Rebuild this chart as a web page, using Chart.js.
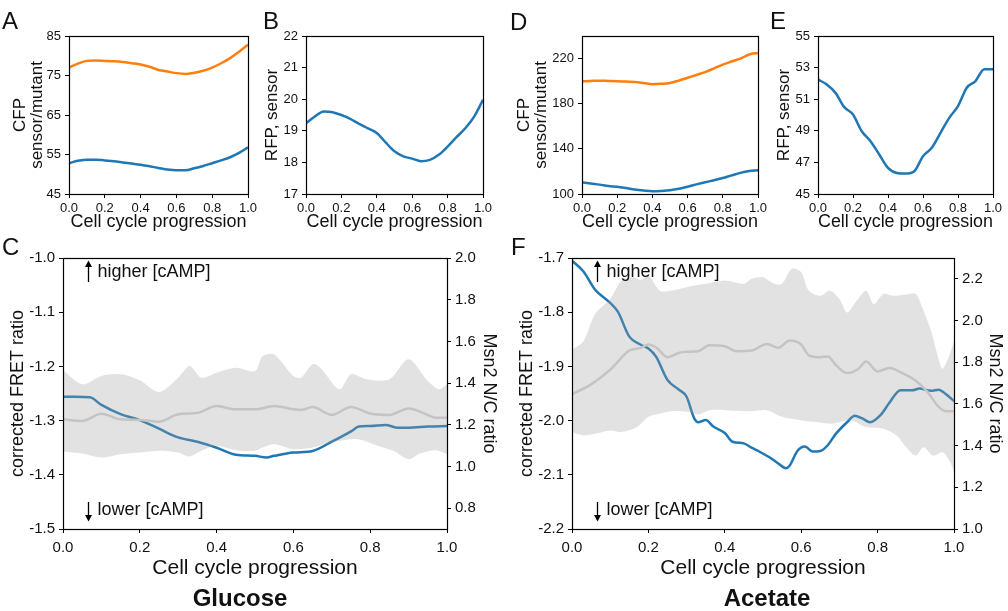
<!DOCTYPE html>
<html><head><meta charset="utf-8">
<script src="https://cdn.jsdelivr.net/npm/chart.js@4.4.1/dist/chart.umd.min.js"></script>
<style>
body{margin:0;background:#fff;}
#wrap{position:relative;width:1008px;height:611px;overflow:hidden;background:#fff;font-family:Arial,"Liberation Sans",sans-serif;color:#111}
canvas{position:absolute}
.lab{position:absolute;font-size:24px;line-height:24px;white-space:nowrap}
.cond{position:absolute;font-size:24px;font-weight:bold;line-height:24px;transform:translateX(-50%);white-space:nowrap}
</style></head><body>
<div id="wrap">
<canvas id="cA" width="258" height="210" style="left:0;top:26px"></canvas>
<canvas id="cB" width="235" height="210" style="left:258px;top:26px"></canvas>
<canvas id="cD" width="268" height="210" style="left:500px;top:26px"></canvas>
<canvas id="cE" width="237" height="210" style="left:768px;top:26px"></canvas>
<canvas id="cC" width="500" height="337" style="left:0;top:248px"></canvas>
<canvas id="cF" width="508" height="337" style="left:500px;top:248px"></canvas>
<div class="lab" style="left:2px;top:9px">A</div>
<div class="lab" style="left:263px;top:9px">B</div>
<div class="lab" style="left:510px;top:10px">D</div>
<div class="lab" style="left:770px;top:9px">E</div>
<div class="lab" style="left:2px;top:235px">C</div>
<div class="lab" style="left:511px;top:235px">F</div>
<div class="cond" style="left:240px;top:586px">Glucose</div>
<div class="cond" style="left:767px;top:586px">Acetate</div>
</div>
<script>
// ---------- data ----------
const progTicks = [0, 0.2, 0.4, 0.6, 0.8, 1.0];
const xGrid = [0,0.05,0.1,0.15,0.2,0.25,0.3,0.35,0.4,0.45,0.5,0.55,0.6,0.65,0.7,0.75,0.8,0.85,0.9,0.95,1.0];

// A: glucose CFP
const aTicks = [45, 55, 65, 75, 85];
const aMutant = [77.0,78.0,78.7,78.8,78.7,78.6,78.4,78.1,77.8,77.2,76.4,76.0,75.6,75.4,75.7,76.2,77.0,78.1,79.4,81.0,82.8];
const aSensor = [52.8,53.4,53.7,53.7,53.5,53.3,53.0,52.7,52.4,52.0,51.6,51.2,51.0,51.0,51.5,52.1,52.8,53.5,54.3,55.4,56.8];

// B: glucose RFP
const bTicks = [17, 18, 19, 20, 21, 22];
const bSensor = [19.24,19.45,19.61,19.59,19.5,19.38,19.22,19.08,18.93,18.63,18.35,18.19,18.12,18.04,18.08,18.24,18.5,18.8,19.08,19.45,19.98];

// D: acetate CFP
const dTicks = [100, 140, 180, 220];
const dMutant = [199.9,200.2,200.4,200.2,200.0,199.6,199.3,198.3,197.2,197.6,198.4,200.5,203.0,205.5,208.0,211.3,214.7,217.4,220.0,223.6,225.0];
const dSensor = [110.4,109.3,108.3,107.0,106.5,105.3,103.9,103.0,102.4,102.7,103.3,104.6,106.5,108.5,110.4,112.2,114.2,116.5,118.7,120.3,121.0];

// E: acetate RFP
const eTicks = [45, 47, 49, 51, 53, 55];
const eSensor = [52.25,51.93,51.4,50.5,50.03,48.97,48.34,47.5,46.65,46.33,46.29,46.44,47.39,47.92,48.87,49.82,50.56,51.72,52.15,52.89,52.89];

// C: glucose FRET / Msn2
const cFretTicks = [-1.5, -1.4, -1.3, -1.2, -1.1, -1.0];
const cMsnTicks = [0.8, 1.0, 1.2, 1.4, 1.6, 1.8, 2.0];
const cFretX = [0,0.03,0.07,0.1,0.15,0.2,0.25,0.3,0.35,0.4,0.45,0.5,0.53,0.55,0.6,0.65,0.7,0.75,0.77,0.8,0.84,0.87,0.9,0.95,1.0];
const cFret  = [-1.256,-1.256,-1.257,-1.271,-1.288,-1.299,-1.315,-1.331,-1.339,-1.35,-1.363,-1.365,-1.368,-1.365,-1.359,-1.356,-1.339,-1.32,-1.311,-1.31,-1.308,-1.313,-1.313,-1.311,-1.31];
const cMsnX = [0,0.05,0.1,0.15,0.2,0.25,0.3,0.35,0.4,0.45,0.5,0.55,0.6,0.62,0.65,0.7,0.75,0.8,0.85,0.9,0.95,0.97,1.0];
const cMsn  = [1.226,1.218,1.253,1.226,1.223,1.215,1.25,1.257,1.29,1.274,1.274,1.29,1.274,1.271,1.285,1.247,1.285,1.254,1.247,1.278,1.247,1.234,1.234];
const cMsnHiX = [0,0.05,0.1,0.15,0.2,0.25,0.3,0.33,0.36,0.4,0.45,0.5,0.52,0.55,0.6,0.62,0.65,0.67,0.72,0.75,0.79,0.85,0.9,0.95,0.98,1.0];
const cMsnHi  = [1.461,1.394,1.434,1.442,1.413,1.357,1.426,1.482,1.426,1.45,1.474,1.458,1.53,1.537,1.434,1.426,1.49,1.474,1.37,1.442,1.418,1.418,1.514,1.41,1.37,1.394];
const cMsnLoX = [0,0.05,0.1,0.15,0.2,0.25,0.3,0.33,0.36,0.4,0.45,0.5,0.52,0.55,0.6,0.65,0.7,0.75,0.78,0.82,0.86,0.9,0.93,0.97,1.0];
const cMsnLo  = [1.072,1.062,1.043,1.059,1.067,1.075,1.067,1.048,1.075,1.099,1.078,1.075,1.091,1.107,1.083,1.091,1.115,1.131,1.126,1.099,1.075,1.035,1.062,1.078,1.059];

// F: acetate FRET / Msn2
const fFretTicks = [-2.2, -2.1, -2.0, -1.9, -1.8, -1.7];
const fMsnTicks = [1.0, 1.2, 1.4, 1.6, 1.8, 2.0, 2.2];
const fFretX = [0,0.03,0.06,0.1,0.12,0.15,0.18,0.2,0.22,0.25,0.28,0.3,0.32,0.33,0.35,0.37,0.4,0.42,0.45,0.47,0.49,0.52,0.54,0.56,0.57,0.59,0.61,0.63,0.65,0.67,0.69,0.72,0.74,0.76,0.78,0.81,0.83,0.86,0.89,0.91,0.94,0.96,0.98,1.0];
const fFret  = [-1.705,-1.725,-1.758,-1.783,-1.799,-1.845,-1.86,-1.867,-1.882,-1.925,-1.943,-1.956,-1.996,-2.003,-1.999,-2.011,-2.023,-2.039,-2.042,-2.05,-2.057,-2.069,-2.079,-2.088,-2.083,-2.056,-2.048,-2.057,-2.056,-2.045,-2.025,-2.003,-1.991,-1.996,-2.003,-1.988,-1.968,-1.944,-1.944,-1.941,-1.945,-1.943,-1.952,-1.964];
const fMsnX = [0,0.05,0.1,0.15,0.18,0.2,0.22,0.25,0.28,0.3,0.33,0.36,0.4,0.43,0.47,0.51,0.54,0.57,0.6,0.62,0.65,0.67,0.69,0.72,0.75,0.77,0.8,0.83,0.87,0.9,0.93,0.96,0.98,1.0];
const fMsn  = [1.646,1.694,1.764,1.856,1.869,1.885,1.872,1.824,1.845,1.85,1.853,1.882,1.877,1.853,1.856,1.888,1.869,1.904,1.885,1.833,1.824,1.828,1.788,1.748,1.769,1.804,1.756,1.772,1.743,1.711,1.659,1.586,1.565,1.565];
const fMsnHiX = [0,0.03,0.06,0.1,0.13,0.16,0.18,0.2,0.23,0.26,0.3,0.35,0.4,0.45,0.47,0.5,0.53,0.55,0.575,0.6,0.62,0.65,0.675,0.7,0.72,0.745,0.77,0.79,0.815,0.84,0.87,0.9,0.915,0.94,0.96,0.97,0.985,1.0];
const fMsnHi  = [1.861,1.901,2.03,2.103,2.192,2.208,2.195,2.216,2.143,2.143,2.16,2.176,2.192,2.176,2.2,2.208,2.176,2.176,2.248,2.232,2.143,2.119,2.143,2.103,2.038,2.095,2.143,2.079,2.127,2.119,2.124,2.127,2.071,1.95,1.812,1.769,1.82,1.901];
const fMsnLoX = [0,0.03,0.06,0.1,0.13,0.17,0.2,0.23,0.26,0.3,0.33,0.36,0.4,0.45,0.47,0.51,0.55,0.6,0.64,0.68,0.73,0.77,0.815,0.85,0.875,0.9,0.92,0.945,0.97,0.99,1.0];
const fMsnLo  = [1.465,1.449,1.457,1.473,1.465,1.489,1.538,1.554,1.565,1.562,1.549,1.57,1.57,1.565,1.565,1.57,1.538,1.521,1.513,1.505,1.521,1.489,1.481,1.449,1.392,1.352,1.392,1.352,1.368,1.32,1.279];

// ---------- styling ----------
const TXT = '#111';
const BLUE = '#1f77b4';
const ORANGE = '#ff7f0e';
const GREYLINE = '#c4c4c4';
const BAND = 'rgba(160,160,160,0.3)';
Chart.defaults.font.family = 'Arial, "Liberation Sans", Helvetica, sans-serif';
Chart.defaults.color = TXT;

const pts = (xs, ys) => xs.map((x, i) => ({x: x, y: ys[i]}));
const fit = (size, horiz) => s => {
  if (horiz) s.height = size; else s.width = size;
  s.paddingLeft = 0; s.paddingRight = 0; s.paddingTop = 0; s.paddingBottom = 0;
};
const fixTicks = arr => s => { s.ticks = arr.map(v => ({value: v})); };

const boxPlugin = {
  id: 'box',
  afterDraw(chart) {
    const {ctx, chartArea: a} = chart;
    ctx.save();
    ctx.strokeStyle = '#000';
    ctx.lineWidth = 1.2;
    ctx.strokeRect(Math.round(a.left) + 0.5, Math.round(a.top) + 0.5, Math.round(a.right - a.left), Math.round(a.bottom - a.top));
    ctx.restore();
  }
};

const notesPlugin = {
  id: 'notes',
  afterDraw(chart, args, opts) {
    if (!opts || !opts.show) return;
    const {ctx, chartArea: a} = chart;
    const ax = Math.round(chart.scales.x.getPixelForValue(opts.arrowX)) + 0.5;
    ctx.save();
    ctx.strokeStyle = '#000'; ctx.fillStyle = '#000'; ctx.lineWidth = 1.3;
    ctx.beginPath(); ctx.moveTo(ax, a.top + 24); ctx.lineTo(ax, a.top + 6); ctx.stroke();
    ctx.beginPath(); ctx.moveTo(ax, a.top + 2.5); ctx.lineTo(ax - 3.5, a.top + 9); ctx.lineTo(ax + 3.5, a.top + 9); ctx.closePath(); ctx.fill();
    ctx.beginPath(); ctx.moveTo(ax, a.bottom - 27); ctx.lineTo(ax, a.bottom - 11); ctx.stroke();
    ctx.beginPath(); ctx.moveTo(ax, a.bottom - 7.5); ctx.lineTo(ax - 3.5, a.bottom - 14); ctx.lineTo(ax + 3.5, a.bottom - 14); ctx.closePath(); ctx.fill();
    ctx.font = '18px Arial, "Liberation Sans", sans-serif';
    ctx.fillStyle = TXT; ctx.textBaseline = 'middle'; ctx.textAlign = 'left';
    ctx.fillText(opts.hi, ax + 9, a.top + 14);
    ctx.fillText(opts.lo, ax + 9, a.bottom - 19);
    ctx.restore();
  }
};

function xAxis(h, tickSize, titleSize, pb, tickPad) {
  return {
    type: 'linear', min: 0, max: 1,
    afterBuildTicks: fixTicks(progTicks), afterFit: fit(h, true),
    ticks: {font: {size: tickSize}, color: TXT, padding: tickPad, maxRotation: 0, autoSkip: false, callback: v => v.toFixed(1)},
    grid: {drawOnChartArea: false, drawTicks: true, tickLength: 4, color: '#000'},
    border: {color: '#000', width: 1},
    title: {display: true, text: 'Cell cycle progression', font: {size: titleSize}, color: TXT, padding: {top: 0, bottom: pb}}
  };
}
function yAxis(pos, w, min, max, tickArr, dec, tickSize, title, titleSize, lh, pt) {
  return {
    type: 'linear', position: pos, min: min, max: max,
    afterBuildTicks: fixTicks(tickArr), afterFit: fit(w, false),
    ticks: {font: {size: tickSize}, color: TXT, padding: 4, autoSkip: false, callback: v => dec ? v.toFixed(dec) : String(v)},
    grid: {drawOnChartArea: false, drawTicks: true, tickLength: 4, color: '#000'},
    border: {color: '#000', width: 1},
    title: {display: true, text: title, font: {size: titleSize, lineHeight: lh}, color: TXT, padding: {top: pt, bottom: 0}}
  };
}
function line(xs, ys, color, width, axis, order) {
  return {data: pts(xs, ys), borderColor: color, borderWidth: width, pointRadius: 0, fill: false,
    cubicInterpolationMode: 'monotone', yAxisID: axis, order: order};
}
function smallChart(id, datasets, yCfg, padRight) {
  return new Chart(document.getElementById(id), {
    type: 'line',
    data: {datasets: datasets},
    options: {
      responsive: false, animation: false, devicePixelRatio: 1,
      layout: {padding: {top: 10, right: padRight, bottom: 0, left: 0}},
      plugins: {legend: {display: false}, tooltip: {enabled: false}},
      scales: {x: xAxis(42, 13, 18, 3.2, 3), y: yCfg}
    },
    plugins: [boxPlugin]
  });
}

smallChart('cA', [line(xGrid, aMutant, ORANGE, 2.5, 'y', 0), line(xGrid, aSensor, BLUE, 2.5, 'y', 1)],
  yAxis('left', 69, 45, 85, aTicks, 0, 13, ['CFP', 'sensor/mutant'], 17, 1.0, 11.5), 10);
smallChart('cB', [line(xGrid, bSensor, BLUE, 2.5, 'y', 0)],
  yAxis('left', 48, 17, 22, bTicks, 0, 13, 'RFP, sensor', 17, 1.2, 3.8), 10);
smallChart('cD', [line(xGrid, dMutant, ORANGE, 2.5, 'y', 0), line(xGrid, dSensor, BLUE, 2.5, 'y', 1)],
  yAxis('left', 82, 100, 240, dTicks, 0, 13, ['CFP', 'sensor/mutant'], 17, 1.0, 15.5), 10);
smallChart('cE', [line(xGrid, eSensor, BLUE, 2.5, 'y', 0)],
  yAxis('left', 50, 45, 55, eTicks, 0, 13, 'RFP, sensor', 17, 1.2, 5.8), 12);

function bigChart(id, fretX, fret, msnX, msn, hiX, hi, loX, lo, leftW, rightW, fMin, fMax, fTicks, mMin, mMax, mTicks, ptL, ptR) {
  const bandHi = line(hiX, hi, 'rgba(0,0,0,0)', 0, 'y2', 1);
  bandHi.fill = {target: '+1'}; bandHi.backgroundColor = BAND; bandHi.cubicInterpolationMode = 'default'; bandHi.tension = 0.3;
  const bandLo = line(loX, lo, 'rgba(0,0,0,0)', 0, 'y2', 1);
  bandLo.cubicInterpolationMode = 'default'; bandLo.tension = 0.3;
  return new Chart(document.getElementById(id), {
    type: 'line',
    data: {datasets: [
      line(msnX, msn, GREYLINE, 2.5, 'y2', 0),
      bandHi, bandLo,
      line(fretX, fret, BLUE, 2.5, 'y', 2)
    ]},
    options: {
      responsive: false, animation: false, devicePixelRatio: 1,
      layout: {padding: {top: 10, right: 0, bottom: 0, left: 0}},
      plugins: {legend: {display: false}, tooltip: {enabled: false},
        notes: {show: true, arrowX: 0.065, hi: 'higher [cAMP]', lo: 'lower [cAMP]'}},
      scales: {
        x: xAxis(56, 15, 21, 4.4, 6),
        y: yAxis('left', leftW, fMin, fMax, fTicks, 1, 15, 'corrected FRET ratio', 18, 1.2, ptL),
        y2: yAxis('right', rightW, mMin, mMax, mTicks, 1, 15, 'Msn2 N/C ratio', 18, 1.2, ptR)
      }
    },
    plugins: [boxPlugin, notesPlugin]
  });
}

bigChart('cC', cFretX, cFret, cMsnX, cMsn, cMsnHiX, cMsnHi, cMsnLoX, cMsnLo, 63, 53, -1.5, -1.0, cFretTicks, 0.7, 2.0, cMsnTicks, 7.2, 0);
bigChart('cF', fFretX, fFret, fMsnX, fMsn, fMsnHiX, fMsnHi, fMsnLoX, fMsnLo, 72, 54, -2.2, -1.7, fFretTicks, 1.0, 2.3, fMsnTicks, 16.2, 2.2);
</script>
</body></html>
